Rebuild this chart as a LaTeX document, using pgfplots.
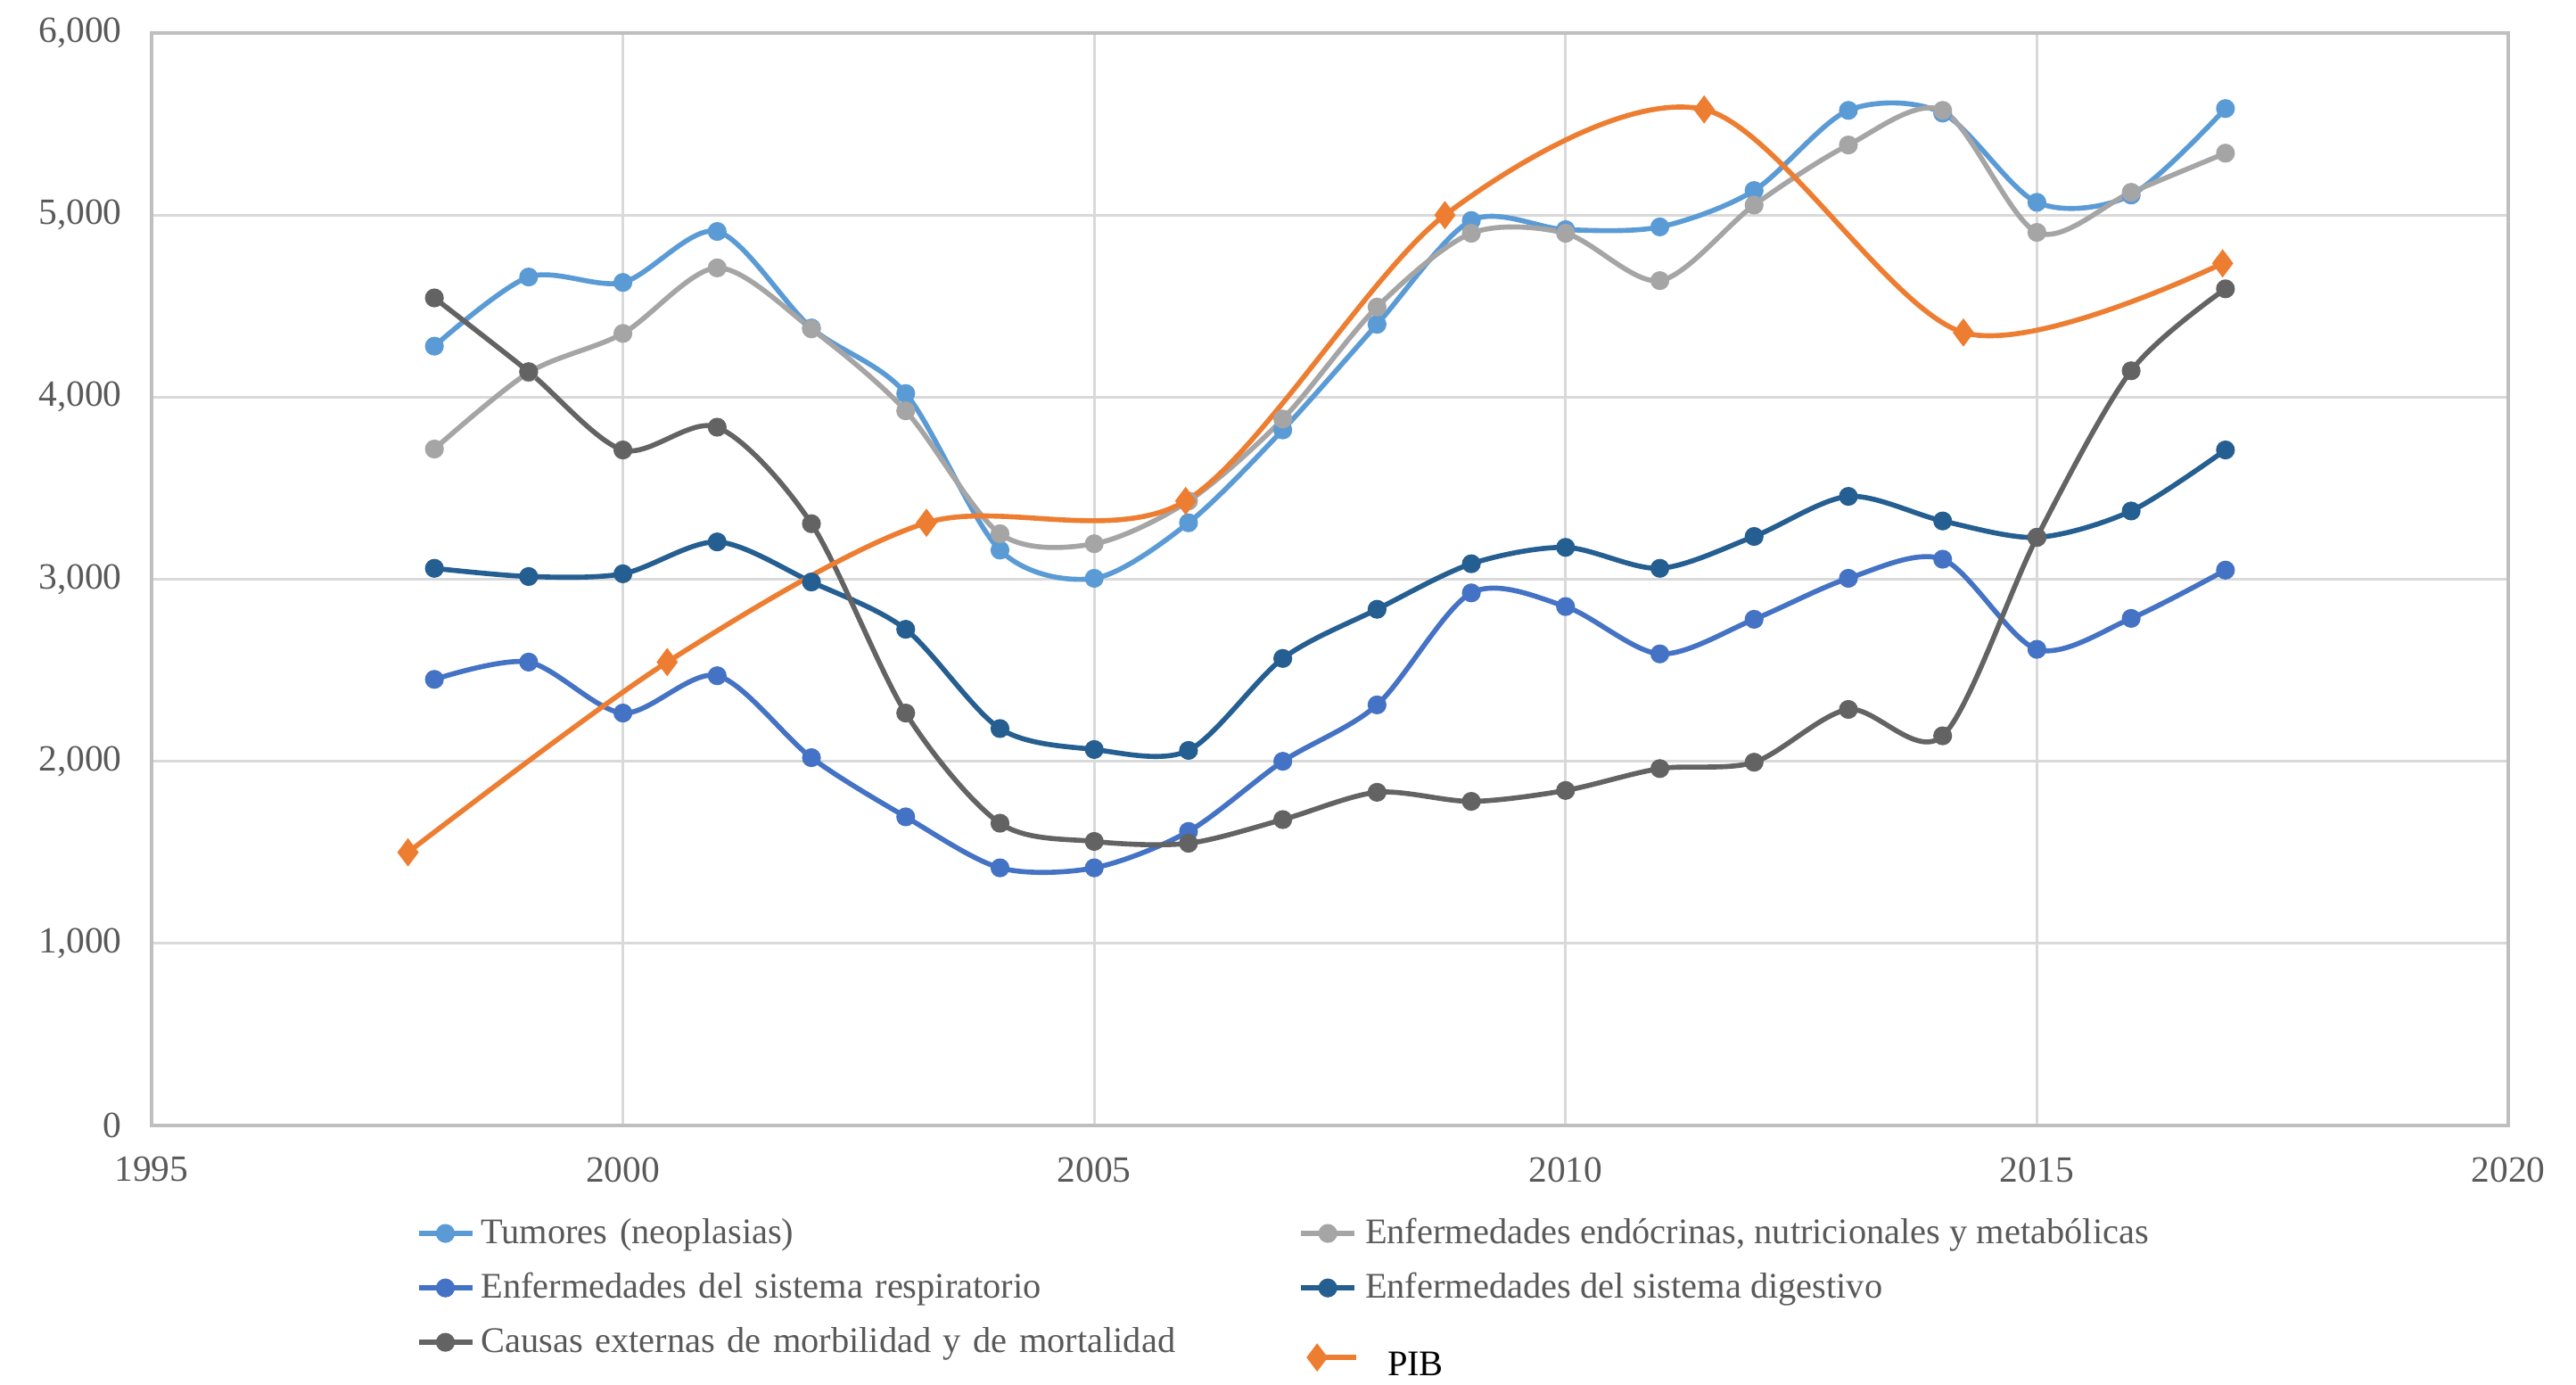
\documentclass[border=0pt]{standalone}
\usepackage{fontspec}
\setmainfont{Liberation Serif}
\usepackage{pgfplots}
\pgfplotsset{compat=1.18}

\definecolor{tumor}{HTML}{5B9BD5}
\definecolor{endoc}{HTML}{A5A5A5}
\definecolor{resp}{HTML}{4472C4}
\definecolor{digest}{HTML}{255E91}
\definecolor{causas}{HTML}{636363}
\definecolor{pib}{HTML}{ED7D31}
\definecolor{txtgray}{HTML}{595959}
\definecolor{gridgray}{HTML}{D9D9D9}

\begin{document}
\begin{tikzpicture}
\useasboundingbox (-1.70,-2.91) rectangle (27.19,12.62);
\begin{axis}[
    scale only axis,
    width=26.43cm, height=12.25cm,
    xmin=1995, xmax=2020, ymin=0, ymax=6000,
    xtick={1995,2000,...,2020},
    ytick={0,1000,...,6000},
    grid=major,
    major grid style={draw=gridgray, line width=0.9pt},
    axis line style={draw=black!25, line width=0.9pt},
    major tick length=0pt,
    scaled y ticks=false,
    /pgf/number format/assume math mode=true,
    tick label style={font=\fontsize{11.8}{14}\selectfont, text=txtgray},
    x tick label style={/pgf/number format/1000 sep={}, yshift=-2.3mm},
    y tick label style={/pgf/number format/1000 sep={,}, xshift=-2.1mm},
    every axis plot/.append style={line width=1.6pt, smooth},
    legend columns=2,
    legend cell align=left,
    legend style={
        draw=none, fill=none,
        at={(0.108,-0.073)}, anchor=north west,
        font=\fontsize{11.5}{14}\selectfont, text=txtgray,
        nodes={inner sep=2pt},
        row sep=3.8pt,
        /tikz/column 2/.style={text width=9.1cm},
    },
]

% Tumores (neoplasias)
\addplot[color=tumor, mark=*, mark size=2.2pt] coordinates {
(1998,4280) (1999,4660) (2000,4630) (2001,4910) (2002,4380)
(2003,4020) (2004,3160) (2005,3005) (2006,3310) (2007,3820)
(2008,4400) (2009,4970) (2010,4920) (2011,4935) (2012,5135)
(2013,5575) (2014,5560) (2015,5070) (2016,5110) (2017,5585)};
\addlegendentry{Tumores (neoplasias)}

% Endocrinas
\addplot[color=endoc, mark=*, mark size=2.2pt] coordinates {
(1998,3715) (1999,4135) (2000,4350) (2001,4710) (2002,4375)
(2003,3925) (2004,3250) (2005,3195) (2006,3430) (2007,3880)
(2008,4495) (2009,4900) (2010,4900) (2011,4640) (2012,5055)
(2013,5385) (2014,5575) (2015,4905) (2016,5125) (2017,5340)};
\addlegendentry{Enfermedades endócrinas, nutricionales y metabólicas}

% Respiratorio
\addplot[color=resp, mark=*, mark size=2.2pt] coordinates {
(1998,2450) (1999,2545) (2000,2265) (2001,2470) (2002,2020)
(2003,1695) (2004,1415) (2005,1415) (2006,1615) (2007,2000)
(2008,2310) (2009,2925) (2010,2850) (2011,2590) (2012,2780)
(2013,3005) (2014,3110) (2015,2615) (2016,2785) (2017,3050)};
\addlegendentry{Enfermedades del sistema respiratorio}

% Digestivo
\addplot[color=digest, mark=*, mark size=2.2pt] coordinates {
(1998,3060) (1999,3015) (2000,3030) (2001,3205) (2002,2985)
(2003,2725) (2004,2180) (2005,2065) (2006,2060) (2007,2565)
(2008,2835) (2009,3085) (2010,3175) (2011,3060) (2012,3235)
(2013,3455) (2014,3320) (2015,3230) (2016,3375) (2017,3710)};
\addlegendentry{Enfermedades del sistema digestivo}

% Causas externas
\addplot[color=causas, mark=*, mark size=2.2pt] coordinates {
(1998,4545) (1999,4140) (2000,3710) (2001,3835) (2002,3305)
(2003,2265) (2004,1660) (2005,1560) (2006,1550) (2007,1680)
(2008,1830) (2009,1780) (2010,1840) (2011,1960) (2012,1995)
(2013,2285) (2014,2140) (2015,3230) (2016,4145) (2017,4595)};
\addlegendentry{Causas externas de morbilidad y de mortalidad}

% PIB (its legend entry sits a little lower and to the right, as in the original)
\addplot[color=pib, mark=diamond*, mark size=3.2pt,
    legend image code/.code={
        \draw[pib, line width=1.6pt] (0.18cm,-1.7mm) -- (0.62cm,-1.7mm);
        \draw[pib, fill=pib, mark=diamond*, mark size=3.2pt] plot coordinates {(0.18cm,-1.7mm)};
    }] coordinates {
(1997.72,1500) (2000.47,2545) (2003.22,3310) (2005.97,3430)
(2008.72,5000) (2011.47,5580) (2014.22,4355) (2016.97,4735)};
\addlegendentry{\hspace{2.5mm}\smash{\raisebox{-4.05mm}{\textcolor{black}{PIB}}}}

\end{axis}
\end{tikzpicture}
\end{document}
